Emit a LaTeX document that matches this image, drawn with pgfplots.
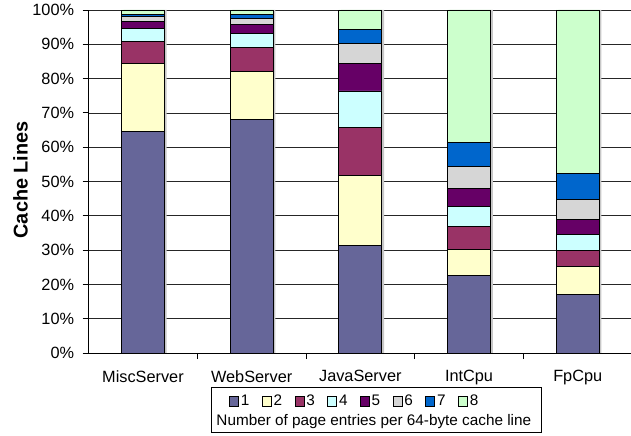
\documentclass[border=0pt]{standalone}
\usepackage{pgfplots}
\pgfplotsset{compat=1.18}
\usepackage{pgfplotstable}
\usepackage{fontspec}
\setmainfont{Liberation Sans}

\definecolor{e1}{HTML}{666699}
\definecolor{e2}{HTML}{FFFFCC}
\definecolor{e3}{HTML}{993366}
\definecolor{e4}{HTML}{CCFFFF}
\definecolor{e5}{HTML}{660066}
\definecolor{e6}{HTML}{D6D6D6}
\definecolor{e7}{HTML}{0066CC}
\definecolor{e8}{HTML}{CCFFCC}

% share (%) of cache lines by number of page entries per 64-byte line
\pgfplotstableread{
idx  n1    n2    n3    n4    n5   n6   n7   n8
0    64.5  19.8  6.5   3.8   2.0  1.5  0.7  1.2
1    68.1  14.1  6.8   4.2   2.6  1.7  1.3  1.2
2    31.3  20.4  14.0  10.7  7.9  5.9  4.2  5.6
3    22.5  7.6   6.8   5.8   5.4  6.3  7.1  38.5
4    17.1  8.1   4.6   4.7   4.4  5.8  7.7  47.6
}\cachelines

\pgfplotsset{
  frame/.style={
    at={(0,0)}, anchor=south west, scale only axis,
    width=543.5bp, height=343bp,
    xmin=-0.5, xmax=4.5, ymin=0, ymax=100,
    font=\fontsize{16.3bp}{19bp}\selectfont,
    /pgf/number format/assume math mode=true,
  },
  seg/.style={fill=#1, draw=black, line width=0.8bp,
    legend image code/.code={\draw[fill=#1, draw=black, line width=0.7bp] (0bp,-4.7bp) rectangle (9bp,4.7bp);}},
}

\begin{document}
\begin{tikzpicture}
\useasboundingbox (-88.6bp,-83bp) rectangle (542.4bp,353bp);

% grid and bar shadows
\begin{axis}[frame,
  ybar, bar width=0.3956,
  axis line style={draw=none},
  xtick=\empty, ytick={0,10,...,100}, yticklabels={},
  tick style={draw=none},
  ymajorgrids, grid style={black!85, line width=0.75bp},
]
\addplot[fill=black!22, draw=none, bar shift=2.2bp] coordinates {(0,100) (1,100) (2,100) (3,100) (4,100)};
\end{axis}

% stacked bars, axes and legend
\begin{axis}[frame,
  ybar stacked, bar width=0.3956,
  axis lines*=left,
  axis line style={black, line width=0.8bp},
  tick align=outside,
  xtick={0,1,2,3,4},
  xticklabels={MiscServer,WebServer,JavaServer,IntCpu,FpCpu},
  xticklabel style={yshift=-8bp},
  minor xtick={0.5,1.5,2.5,3.5},
  major x tick style={draw=none},
  minor tick length=6bp, major tick length=6bp,
  tick style={black, line width=0.8bp},
  ytick={0,10,...,100},
  yticklabel={\pgfmathprintnumber{\tick}\%},
  yticklabel style={xshift=-5bp},
  ylabel={Cache Lines},
  every axis y label/.style={at={(axis description cs:-0.1251,0.505)}, rotate=90, anchor=center,
    font=\fontsize{19.9bp}{22bp}\selectfont\bfseries},
  legend columns=8,
  legend style={draw=none, fill=none, inner sep=0pt, at={(0.2583,-0.1408)}, anchor=west,
    font=\fontsize{15.3bp}{18bp}\selectfont,
    nodes={inner xsep=1bp},
    /tikz/every odd column/.append style={column sep=1bp},
    /tikz/every even column/.append style={column sep=11.5bp}},
]
\addplot[seg=e1] table[x=idx, y=n1] {\cachelines};
\addplot[seg=e2] table[x=idx, y=n2] {\cachelines};
\addplot[seg=e3] table[x=idx, y=n3] {\cachelines};
\addplot[seg=e4] table[x=idx, y=n4] {\cachelines};
\addplot[seg=e5] table[x=idx, y=n5] {\cachelines};
\addplot[seg=e6] table[x=idx, y=n6] {\cachelines};
\addplot[seg=e7] table[x=idx, y=n7] {\cachelines};
\addplot[seg=e8] table[x=idx, y=n8] {\cachelines};
\legend{1,2,3,4,5,6,7,8}
\end{axis}

\node[font=\fontsize{15.3bp}{18bp}\selectfont, anchor=base, inner sep=0pt] at (285.2bp,-72.7bp) {Number of page entries per 64-byte cache line};
\draw[black, line width=0.8bp] (123.1bp,-34.3bp) rectangle (452.4bp,-79.3bp);
\end{tikzpicture}
\end{document}
